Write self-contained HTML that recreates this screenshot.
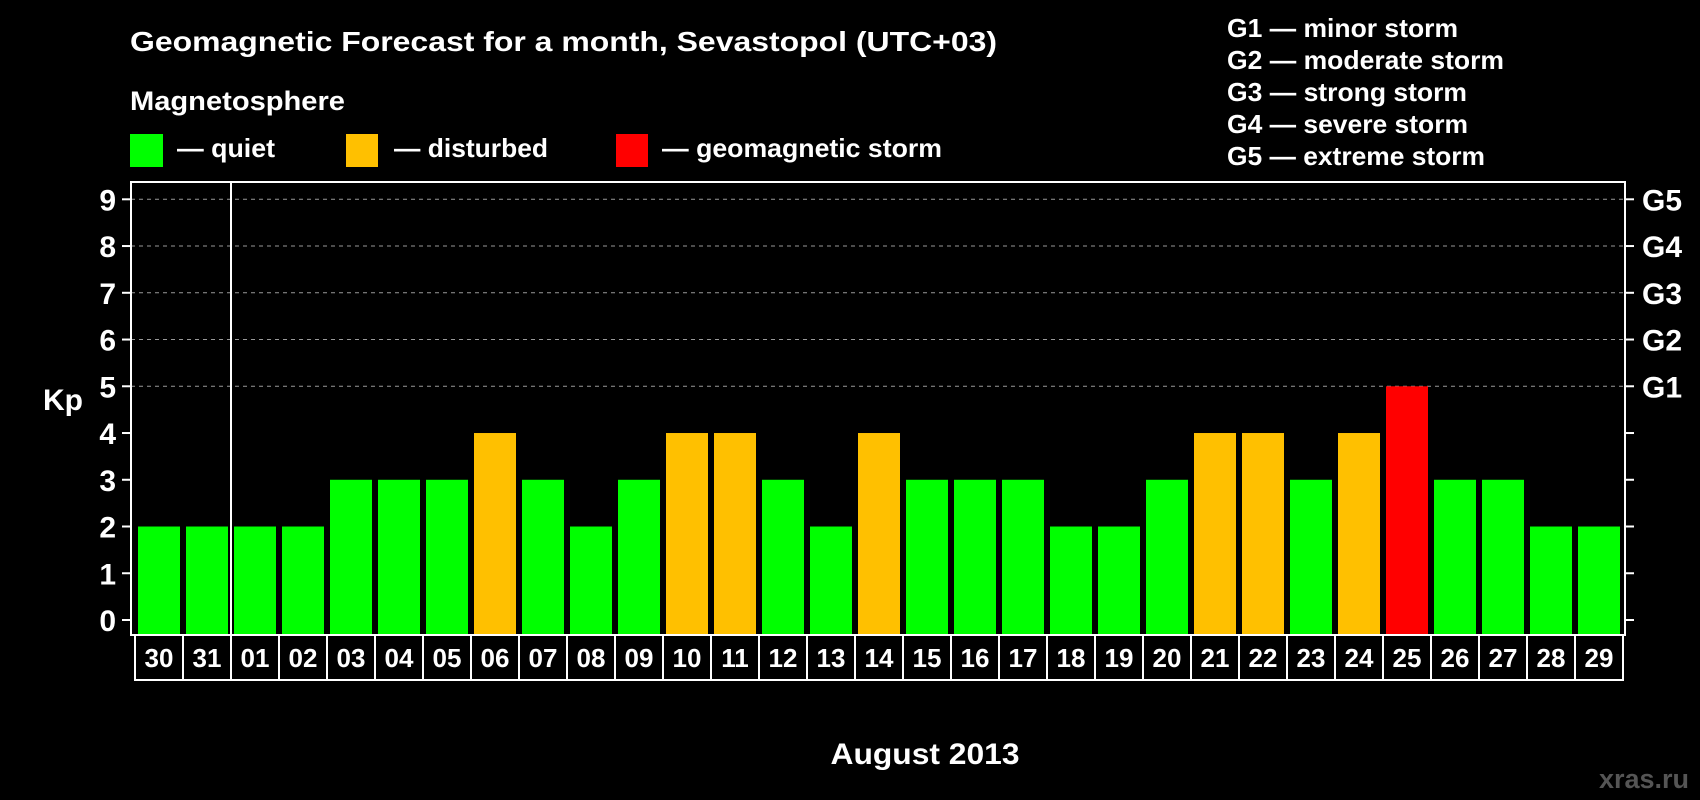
<!DOCTYPE html>
<html><head><meta charset="utf-8"><style>
html,body{margin:0;padding:0;background:#000;}
svg{display:block;font-family:"Liberation Sans",sans-serif;font-weight:bold;}
</style></head><body>
<svg id="chart" width="1700" height="800" viewBox="0 0 1700 800">
<text x="130" y="51" fill="#fff" font-size="28" textLength="867" lengthAdjust="spacingAndGlyphs">Geomagnetic Forecast for a month, Sevastopol (UTC+03)</text>
<text x="130" y="110" fill="#fff" font-size="27" textLength="215" lengthAdjust="spacingAndGlyphs">Magnetosphere</text>
<rect x="130" y="134" width="33" height="33" fill="#00ff00"/>
<text x="177" y="157" fill="#fff" font-size="26" textLength="98" lengthAdjust="spacingAndGlyphs">— quiet</text>
<rect x="346" y="134" width="32" height="33" fill="#ffc000"/>
<text x="394" y="157" fill="#fff" font-size="26" textLength="154" lengthAdjust="spacingAndGlyphs">— disturbed</text>
<rect x="616" y="134" width="32" height="33" fill="#ff0000"/>
<text x="662" y="157" fill="#fff" font-size="26" textLength="280" lengthAdjust="spacingAndGlyphs">— geomagnetic storm</text>
<g fill="#fff" font-size="26" lengthAdjust="spacingAndGlyphs">
<text x="1227" y="37" textLength="231" lengthAdjust="spacingAndGlyphs">G1 — minor storm</text>
<text x="1227" y="69" textLength="277" lengthAdjust="spacingAndGlyphs">G2 — moderate storm</text>
<text x="1227" y="101" textLength="240" lengthAdjust="spacingAndGlyphs">G3 — strong storm</text>
<text x="1227" y="133" textLength="241" lengthAdjust="spacingAndGlyphs">G4 — severe storm</text>
<text x="1227" y="165" textLength="258" lengthAdjust="spacingAndGlyphs">G5 — extreme storm</text>
</g>
<text x="43" y="410" fill="#fff" font-size="30">Kp</text>
<g id="grid"></g>
<g id="bars"></g>
<rect x="131" y="182" width="1494" height="453" fill="none" stroke="#fff" stroke-width="2"/>
<line x1="231" y1="182" x2="231" y2="635" stroke="#fff" stroke-width="2"/>
<g id="axes"></g>
<g id="xlabels"></g>
<text x="925" y="764" fill="#fff" font-size="30" text-anchor="middle" textLength="189" lengthAdjust="spacingAndGlyphs">August 2013</text>
<text x="1689" y="788" fill="#555" font-size="27" text-anchor="end">xras.ru</text>
</svg>
<script>
const days = ["30","31","01","02","03","04","05","06","07","08","09","10","11","12","13","14","15","16","17","18","19","20","21","22","23","24","25","26","27","28","29"];
const kpValues = [2,2,2,2,3,3,3,4,3,2,3,4,4,3,2,4,3,3,3,2,2,3,4,4,3,4,5,3,3,2,2];
const yTicks = [0,1,2,3,4,5,6,7,8,9];
const gLabels = ["","","","","","G1","G2","G3","G4","G5"];
const NS="http://www.w3.org/2000/svg";
function y(v){return 620-v*(420.7/9);}
function x(i){return 138+i*48;}
function mk(t,a,p){const e=document.createElementNS(NS,t);for(const k in a)e.setAttribute(k,a[k]);p.appendChild(e);return e;}
function color(v){return v>=5?"#ff0000":v>=4?"#ffc000":"#00ff00";}
const grid=document.getElementById("grid"),bars=document.getElementById("bars"),axes=document.getElementById("axes"),xl=document.getElementById("xlabels");
yTicks.forEach((t,i)=>{
  if(t>=5){const g=mk("line",{x1:131,x2:1625,y1:y(t),y2:y(t),stroke:"#999","stroke-dasharray":"4 4","stroke-width":1},grid);
  
  }
  const l=mk("line",{x1:122,x2:131,y1:y(t),y2:y(t),stroke:"#fff","stroke-width":2},axes);
  
  
  const r=mk("line",{x1:1625,x2:1634,y1:y(t),y2:y(t),stroke:"#fff","stroke-width":2},axes);
  
  
  const tx=mk("text",{x:116,y:y(t)+11,fill:"#fff","font-size":30,"text-anchor":"end"},axes);
  tx.textContent=t;
  
  
  if(gLabels[i]){const g=mk("text",{x:1642,y:y(t)+11,fill:"#fff","font-size":30},axes);
  g.textContent=gLabels[i];
  
  }
});
kpValues.forEach((v,i)=>{
  const b=mk("rect",{x:x(i),y:y(v),width:42,height:634-y(v),fill:color(v)},bars);
  
  
});
days.forEach((d,i)=>{
  const c=mk("rect",{x:135+i*48,y:635,width:48,height:45,fill:"none",stroke:"#fff","stroke-width":2},xl);
  
  
  const t=mk("text",{x:159+i*48,y:667,fill:"#fff","font-size":26,"text-anchor":"middle"},xl);
  t.textContent=d;
  
  
});
</script>
</body></html>
